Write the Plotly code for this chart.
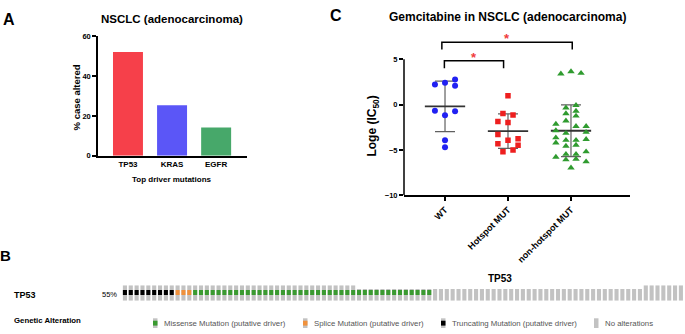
import numpy as np
import plotly.graph_objects as go

W, H = 685, 334
FONT = "Liberation Sans, Arial, sans-serif"

# ---------------- Panel A data ----------------
drivers = ["TP53", "KRAS", "EGFR"]
pct_altered = [52.0, 25.4, 14.2]
driver_colors = ["#f6404a", "#5b56f7", "#47a86a"]

# ---------------- Panel C data ----------------
groups = ["WT", "Hotspot MUT", "non-hotspot MUT"]
wt_vals = [2.20, 2.40, 2.75, 2.07, -0.68, -1.18, -0.73, -3.93, -4.70]
wt_cols = [-1, 0, 1, 1, -1, 0, 1, 0, 0]
hot_vals = [0.96, -1.00, -1.15, -1.86, -1.97, -3.30, -3.93, -3.77, -4.32, -4.48, -5.19, -5.02]
hot_cols = [0, -0.5, 0.5, -1, 0, -1, 0, 1, -1, 1, -0.5, 0.5]
non_vals = [3.39, 3.64, 3.46,
            -0.08, -0.72, -1.25, -2.40, -3.93, -4.47, -5.47, -6.00,
            -0.36, -1.00, -1.79, -3.15, -3.93, -4.58, -5.47, -6.08,
            -2.15, -2.86, -3.65, -4.22, -5.79,
            -2.40, -3.04, -3.83, -5.19, -6.29,
            -6.97]
non_cols = [-1, 0, 1,
            0.5, 0.5, 0.5, 0.5, 0.5, 0.5, 0.5, 0.5,
            -0.5, -0.5, -0.5, -0.5, -0.5, -0.5, -0.5, -0.5,
            -1.5, -1.5, -1.5, -1.5, -1.5,
            1.5, 1.5, 1.5, 1.5, 1.5,
            0]

# ---------------- Panel B data ----------------
onco_types = ["Truncating Mutation", "Splice Mutation", "Missense Mutation", "No alterations"]
onco_counts = [9, 3, 41, 43]
onco_pct_label = "55%"
legend_labels = ["Missense Mutation (putative driver)", "Splice Mutation (putative driver)",
                 "Truncating Mutation (putative driver)", "No alterations"]

# ---------------- styles ----------------
onco_colors = {"Truncating Mutation": "#000000", "Splice Mutation": "#f0913c",
               "Missense Mutation": "#3a9a30", "No alterations": None}
GRAY = "#c2c2c2"


def px_x(p):
    return p / W


def px_y(p):
    return 1 - p / H


fig = go.Figure()

# Panel A bars
fig.add_trace(go.Bar(x=list(range(len(drivers))), y=pct_altered, width=0.68,
                     marker=dict(color=driver_colors, line=dict(width=0)),
                     xaxis="x", yaxis="y", hoverinfo="skip"))

# Panel C
sets = [(wt_vals, wt_cols, "circle", "#2121f2", 6),
        (hot_vals, hot_cols, "square", "#ee1f1f", 5.5),
        (non_vals, non_cols, "triangle-up", "#2f9b2f", 6.5)]
for i, (vals, cols, sym, col, sz) in enumerate(sets):
    v = np.array(vals)
    m = v.mean()
    s = v.std(ddof=1)
    fig.add_trace(go.Scatter(x=[i], y=[m], mode="markers",
                             marker=dict(size=1, opacity=0),
                             error_y=dict(type="data", array=[s], color="#606060",
                                          thickness=1.2, width=10),
                             xaxis="x2", yaxis="y2", hoverinfo="skip"))
    fig.add_trace(go.Scatter(x=[i - 0.32, i + 0.32], y=[m, m], mode="lines",
                             line=dict(color="#333333", width=1.8),
                             xaxis="x2", yaxis="y2", hoverinfo="skip"))
    fig.add_trace(go.Scatter(x=i + 0.16 * np.array(cols), y=vals, mode="markers",
                             marker=dict(symbol=sym, size=sz, color=col, line=dict(width=0)),
                             xaxis="x2", yaxis="y2", hoverinfo="skip"))

# Panel B oncoprint
cells = []
for t, n in zip(onco_types, onco_counts):
    cells += [t] * n
N = len(cells)
idx = list(range(N))
tall = [(i < 40 or i >= 89) for i in idx]
fig.add_trace(go.Bar(x=idx, y=[16 if t else 12 for t in tall], base=0, width=0.7,
                     marker=dict(color=GRAY, line=dict(width=0)),
                     xaxis="x3", yaxis="y3", hoverinfo="skip"))
alt_idx = [i for i, c in enumerate(cells) if onco_colors[c]]
fig.add_trace(go.Bar(x=alt_idx, y=[5] * len(alt_idx), base=6, width=0.7,
                     marker=dict(color=[onco_colors[cells[i]] for i in alt_idx], line=dict(width=0)),
                     xaxis="x3", yaxis="y3", hoverinfo="skip"))

shapes = []
annotations = []

# C axis line (only -10..5) and brackets
shapes.append(dict(type="line", xref="x2 domain", yref="y2", x0=0, x1=0, y0=-10, y1=5,
                   line=dict(color="black", width=1.5)))
shapes.append(dict(type="path", xref="x2", yref="y2",
                   path="M -0.01,4.0 L -0.01,4.82 L 0.93,4.82 L 0.93,4.0",
                   line=dict(color="black", width=1.5)))
shapes.append(dict(type="path", xref="x2", yref="y2",
                   path="M -0.05,6.07 L -0.05,6.86 L 2.02,6.86 L 2.02,6.07",
                   line=dict(color="black", width=1.5)))
annotations.append(dict(x=0.46, y=5.2, xref="x2", yref="y2", text="*", showarrow=False,
                        font=dict(size=13, color="#f03c3c", family=FONT, weight="bold")))
annotations.append(dict(x=0.985, y=7.3, xref="x2", yref="y2", text="*", showarrow=False,
                        font=dict(size=13, color="#f03c3c", family=FONT, weight="bold")))


def ann(x, y, text, size, bold=True, color="black", xanchor="center", angle=0):
    annotations.append(dict(x=px_x(x), y=px_y(y), xref="paper", yref="paper", text=text,
                            showarrow=False, xanchor=xanchor, yanchor="middle", textangle=angle,
                            font=dict(size=size, color=color, family=FONT,
                                      weight="bold" if bold else "normal")))


# Panel letters and titles
ann(9, 16, "A", 16)
ann(336, 12, "C", 16)
ann(5, 258, "B", 15)
ann(172, 15, "NSCLC (adenocarcinoma)", 11.5)
ann(507, 13, "Gemcitabine in NSCLC (adenocarcinoma)", 12)
ann(76, 96, "% case altered", 9.5, angle=-90)
ann(172, 180, "Top driver mutations", 8)
ann(373, 126, "Loge (IC<sub>50</sub>)", 12, angle=-90)

# Panel B texts
ann(500, 282, "TP53", 10)
ann(12, 299, "TP53", 9, xanchor="left")
ann(100, 299, onco_pct_label, 7.5, bold=False, xanchor="left")
ann(12, 325, "Genetic Alteration", 7.8, xanchor="left")

leg_swatch_x = [153, 303, 441, 594]
leg_colors = [onco_colors["Missense Mutation"], onco_colors["Splice Mutation"],
              onco_colors["Truncating Mutation"], None]
for sx, lab, c in zip(leg_swatch_x, legend_labels, leg_colors):
    shapes.append(dict(type="rect", xref="paper", yref="paper",
                       x0=px_x(sx), x1=px_x(sx + 4.5), y0=px_y(333), y1=px_y(323),
                       fillcolor=GRAY, line=dict(width=0)))
    if c:
        shapes.append(dict(type="rect", xref="paper", yref="paper",
                           x0=px_x(sx), x1=px_x(sx + 4.5), y0=px_y(330.5), y1=px_y(325.5),
                           fillcolor=c, line=dict(width=0)))
    ann(sx + 8.5, 328, lab, 7.8, bold=False, color="#555555", xanchor="left")

bold_font = lambda s: dict(size=s, family=FONT, color="black", weight="bold")

fig.update_layout(
    width=W, height=H, margin=dict(l=0, r=0, t=0, b=0),
    paper_bgcolor="white", plot_bgcolor="white", showlegend=False,
    barmode="overlay", font=dict(family=FONT),
    shapes=shapes, annotations=annotations,
    xaxis=dict(domain=[px_x(98), px_x(247)], range=[-0.68, 2.70], anchor="y",
               tickvals=[0, 1, 2], ticktext=drivers, ticks="", showline=True,
               linecolor="black", linewidth=1.5, showgrid=False, zeroline=False,
               tickfont=bold_font(8)),
    yaxis=dict(domain=[px_y(156), px_y(33)], range=[0, 60], anchor="x",
               tickvals=[0, 20, 40, 60], ticks="outside", ticklen=4, tickwidth=1.5,
               tickcolor="black", showline=True, linecolor="black", linewidth=1.5,
               showgrid=False, zeroline=False, tickfont=bold_font(7.5)),
    xaxis2=dict(domain=[px_x(404), px_x(630)], range=[-0.651, 2.937], anchor="y2",
                tickvals=[0, 1, 2], ticktext=groups, tickangle=-45, ticks="outside",
                ticklen=4, tickwidth=1.5, tickcolor="black", showline=True,
                linecolor="black", linewidth=1.5, showgrid=False, zeroline=False,
                tickfont=bold_font(9)),
    yaxis2=dict(domain=[px_y(196.6), px_y(28.7)], range=[-10, 8], anchor="x2",
                tickvals=[-10, -5, 0, 5], ticks="outside", ticklen=4, tickwidth=1.5,
                tickcolor="black", showline=False, showgrid=False, zeroline=False,
                tickfont=bold_font(7.5)),
    xaxis3=dict(domain=[px_x(122), 1.0], range=[-0.5, 95.7], anchor="y3",
                visible=False, showgrid=False, zeroline=False),
    yaxis3=dict(domain=[px_y(305), px_y(289)], range=[0, 16], anchor="x3",
                visible=False, showgrid=False, zeroline=False),
)

fig.write_html("out.html", config={"displayModeBar": False},
               post_script="document.body.style.margin='0';document.body.style.overflow='hidden';")
